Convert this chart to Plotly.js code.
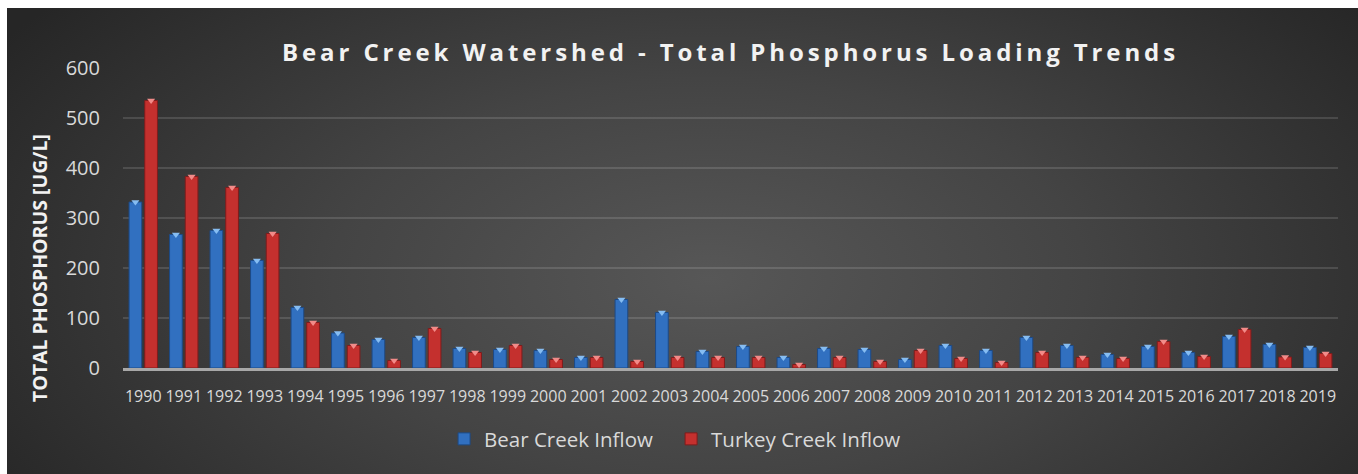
<!DOCTYPE html>
<html><head><meta charset="utf-8">
<script src="https://cdn.plot.ly/plotly-3.0.1.min.js"></script>
<style>
html,body{margin:0;padding:0;background:#ffffff;width:1358px;height:474px;overflow:hidden}
#wrap{position:absolute;left:7px;top:8px;width:1351px;height:466px;
  background:radial-gradient(ellipse 62% 95% at 52% 58%, #575757 0%, #444444 45%, #262626 100%);}
#chart{width:1351px;height:466px}
.gtitle{letter-spacing:3.9px}
</style></head><body>
<div id="wrap"><div id="chart"></div></div>
<script>
const years = ['1990','1991','1992','1993','1994','1995','1996','1997','1998','1999',
  '2000','2001','2002','2003','2004','2005','2006','2007','2008','2009',
  '2010','2011','2012','2013','2014','2015','2016','2017','2018','2019'];
const bearCreekInflow = [332,267,275,215,121,70,57,61,39,37,
  35,21,137,111,33,43,21,39,37,17,
  45,35,61,45,27,43,31,63,47,41];
const turkeyCreekInflow = [535,383,361,269,91,45,15,79,31,45,
  17,21,13,21,21,21,7,21,13,35,
  19,11,31,21,19,53,23,77,22,29];
const seriesNames = ['Bear Creek Inflow','Turkey Creek Inflow'];
const yTicks = [0,100,200,300,400,500,600];

const font = "'Open Sans', 'DejaVu Sans', sans-serif";
const traces = [
  {type:'bar', name:seriesNames[0], x:years, y:bearCreekInflow, offsetgroup:'a', legendwidth:182,
   marker:{color:'#3170c0', line:{color:'#1d4a86', width:1}}},
  {type:'bar', name:seriesNames[1], x:years, y:turkeyCreekInflow, offsetgroup:'b',
   marker:{color:'#c4302e', line:{color:'#7e1c1c', width:1}}},
  {type:'scatter', mode:'markers', x:years, y:bearCreekInflow, offsetgroup:'a',
   showlegend:false, hoverinfo:'skip',
   marker:{symbol:'triangle-down', size:7, color:'#86bdf2', line:{width:0}}},
  {type:'scatter', mode:'markers', x:years, y:turkeyCreekInflow, offsetgroup:'b',
   showlegend:false, hoverinfo:'skip',
   marker:{symbol:'triangle-down', size:7, color:'#f28b89', line:{width:0}}}
];
const layout = {
  width:1351, height:466,
  paper_bgcolor:'rgba(0,0,0,0)', plot_bgcolor:'rgba(0,0,0,0)',
  margin:{l:116, r:20, t:60, b:106},
  font:{family:font, color:'#d9d9d9'},
  title:{text:'Bear Creek Watershed - Total Phosphorus Loading Trends',
    font:{family:font, size:24, color:'#f2f2f2', weight:'bold'},
    xref:'paper', x:0.5, xanchor:'center', yref:'container', y:0.905, yanchor:'middle'},
  barmode:'group', bargap:0.225, bargroupgap:0.19,
  scattermode:'group', scattergap:0.225,
  showlegend:true,
  legend:{orientation:'h', xref:'container', x:0.4945, xanchor:'center',
    yref:'container', y:0.075, yanchor:'middle',
    font:{family:font, size:20.5, color:'#d9d9d9'}, bgcolor:'rgba(0,0,0,0)'},
  xaxis:{type:'category', tickangle:0, showgrid:false, zeroline:false,
    showline:true, linecolor:'#a8a8a8', linewidth:2.5,
    ticks:'outside', ticklen:12, tickcolor:'rgba(0,0,0,0)',
    tickfont:{family:font, size:16, color:'#d9d9d9'}},
  yaxis:{range:[0,600], tickvals:yTicks, showgrid:true, gridcolor:'rgba(255,255,255,0.13)', gridwidth:1.5,
    zeroline:false, showline:false,
    ticks:'outside', ticklen:18, tickcolor:'rgba(0,0,0,0)',
    tickfont:{family:font, size:20, color:'#d9d9d9'}},
  annotations:[{text:'TOTAL PHOSPHORUS [UG/L]', textangle:-90, showarrow:false,
    xref:'paper', yref:'paper', x:-0.0691, y:0.333, xanchor:'center', yanchor:'middle',
    font:{family:font, size:19.5, color:'#f2f2f2', weight:'bold'}}]
};
Plotly.newPlot('chart', traces, layout, {displayModeBar:false, staticPlot:true});
</script>
</body></html>
